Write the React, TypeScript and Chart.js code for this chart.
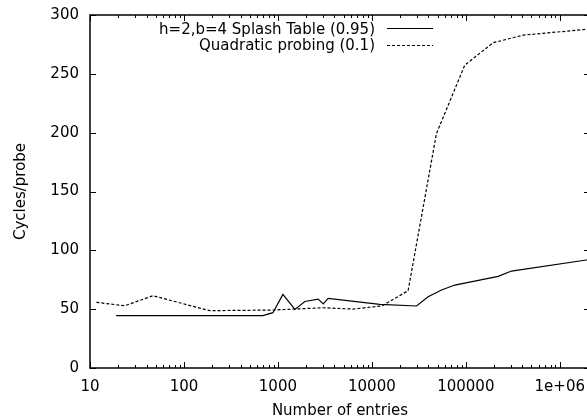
import { useEffect, useRef } from "react";
import { Chart, registerables } from "chart.js";

Chart.register(...registerables);

// Number of entries (log scale) and measured cycles per probe
const splashEntries = [19, 692, 885, 1130, 1517, 1936, 2685, 3035, 3428, 12160, 29900, 39700, 55100, 76400, 221000, 306000, 1920000, 2097152];
const splashCycles = [44.5, 44.5, 47, 62.6, 49.8, 56.5, 58.5, 54.4, 59.2, 54, 52.7, 60.6, 66.3, 70.5, 77.9, 82.4, 91.8, 92.3];

const quadEntries = [11.7, 23.4, 46.8, 187.5, 923, 3013, 6280, 12700, 24300, 48700, 97500, 195000, 408000, 1920000, 2097152];
const quadCycles = [55.8, 52.9, 61.4, 48.7, 49.3, 51.2, 50.1, 52.7, 65.7, 199.3, 257.4, 276.4, 282.9, 287.8, 288.1];

const seriesLabels = ["h=2,b=4 Splash Table (0.95)", "Quadratic probing (0.1)"];

const xTickValues = [10, 100, 1000, 10000, 100000, 1000000];
const xTickLabels = ["10", "100", "1000", "10000", "100000", "1e+06"];
const X_MIN = 10;
const X_MAX = 2097152;

const Y_MIN = 0;
const Y_MAX = 300;
const Y_STEP = 50;

const FONT_FAMILY = '"DejaVu Sans", sans-serif';
const FONT_SIZE = 15;
const INK = "#000";

// Draws the boxed frame with inward ticks on all four sides and the key
const framePlugin = {
  id: "gnuplotFrame",
  afterDatasetsDraw(chart: any) {
    const { ctx, chartArea: a, scales } = chart;
    const xs = scales.x;
    const ys = scales.y;
    ctx.save();
    ctx.strokeStyle = INK;
    ctx.lineWidth = 1;
    ctx.setLineDash([]);
    ctx.beginPath();
    for (let d = 10; d <= X_MAX; d *= 10) {
      for (let m = 1; m <= 9; m++) {
        const v = d * m;
        if (v > X_MAX) break;
        const px = Math.round(xs.getPixelForValue(v)) + 0.5;
        const len = m === 1 ? 6 : 3;
        ctx.moveTo(px, a.bottom);
        ctx.lineTo(px, a.bottom - len);
        ctx.moveTo(px, a.top);
        ctx.lineTo(px, a.top + len);
      }
    }
    for (let v = Y_MIN; v <= Y_MAX; v += Y_STEP) {
      const py = Math.round(ys.getPixelForValue(v)) + 0.5;
      ctx.moveTo(a.left, py);
      ctx.lineTo(a.left + 6, py);
      ctx.moveTo(a.right, py);
      ctx.lineTo(a.right - 6, py);
    }
    ctx.stroke();

    ctx.lineWidth = 1.5;
    ctx.strokeRect(a.left, a.top, a.right - a.left, a.bottom - a.top);

    // key: right-aligned labels followed by line samples
    ctx.font = `${FONT_SIZE}px ${FONT_FAMILY}`;
    ctx.fillStyle = INK;
    ctx.textAlign = "right";
    ctx.textBaseline = "middle";
    const textRight = 375;
    const sampleStart = 387;
    const sampleEnd = 433;
    const textY = [30.5, 46.5];
    const sampleY = [28.5, 45.5];
    chart.data.datasets.forEach((ds: any, i: number) => {
      ctx.fillText(ds.label, textRight, textY[i]);
      ctx.beginPath();
      ctx.lineWidth = ds.borderWidth;
      ctx.setLineDash(ds.borderDash || []);
      ctx.moveTo(sampleStart, sampleY[i]);
      ctx.lineTo(sampleEnd, sampleY[i]);
      ctx.stroke();
    });
    ctx.restore();
  },
};

export default function App() {
  const canvasRef = useRef<HTMLCanvasElement | null>(null);

  useEffect(() => {
    const canvas = canvasRef.current;
    if (!canvas) return;
    const font = { family: FONT_FAMILY, size: FONT_SIZE };
    const chart = new Chart(canvas, {
      type: "scatter",
      data: {
        datasets: [
          {
            label: seriesLabels[0],
            data: splashEntries.map((x, i) => ({ x, y: splashCycles[i] })),
            showLine: true,
            borderColor: INK,
            borderWidth: 1.2,
            pointRadius: 0,
            tension: 0,
          },
          {
            label: seriesLabels[1],
            data: quadEntries.map((x, i) => ({ x, y: quadCycles[i] })),
            showLine: true,
            borderColor: INK,
            borderWidth: 1.2,
            borderDash: [3, 2],
            pointRadius: 0,
            tension: 0,
          },
        ],
      },
      options: {
        animation: false,
        responsive: false,
        layout: { padding: { top: 15, right: 10, left: 0, bottom: 0 } },
        plugins: {
          legend: { display: false },
          tooltip: { enabled: false },
        },
        scales: {
          x: {
            type: "logarithmic",
            min: X_MIN,
            max: X_MAX,
            grid: { display: false, drawTicks: false },
            border: { display: false },
            afterBuildTicks: (scale: any) => {
              scale.ticks = xTickValues.map((value) => ({ value }));
            },
            afterFit: (scale: any) => {
              scale.height = 52;
              scale.paddingLeft = 0;
              scale.paddingRight = 0;
            },
            ticks: {
              autoSkip: false,
              maxRotation: 0,
              padding: 10,
              color: INK,
              font,
              callback: (_v: any, i: number) => xTickLabels[i],
            },
            title: {
              display: true,
              text: "Number of entries",
              color: INK,
              font,
              padding: { top: 0, bottom: 0 },
            },
          },
          y: {
            min: Y_MIN,
            max: Y_MAX,
            grid: { display: false, drawTicks: false },
            border: { display: false },
            afterFit: (scale: any) => {
              scale.width = 90;
              scale.paddingTop = 0;
              scale.paddingBottom = 0;
            },
            ticks: {
              stepSize: Y_STEP,
              padding: 11,
              color: INK,
              font,
            },
            title: {
              display: true,
              text: "Cycles/probe",
              color: INK,
              font,
              padding: { top: 12, bottom: 0 },
            },
          },
        },
      },
      plugins: [framePlugin],
    } as any);
    return () => chart.destroy();
  }, []);

  return (
    <div
      style={{
        position: "fixed",
        left: 0,
        top: 0,
        width: 587,
        height: 420,
        overflow: "hidden",
        background: "#fff",
      }}
    >
      <canvas ref={canvasRef} width={600} height={420} style={{ display: "block" }} />
    </div>
  );
}
